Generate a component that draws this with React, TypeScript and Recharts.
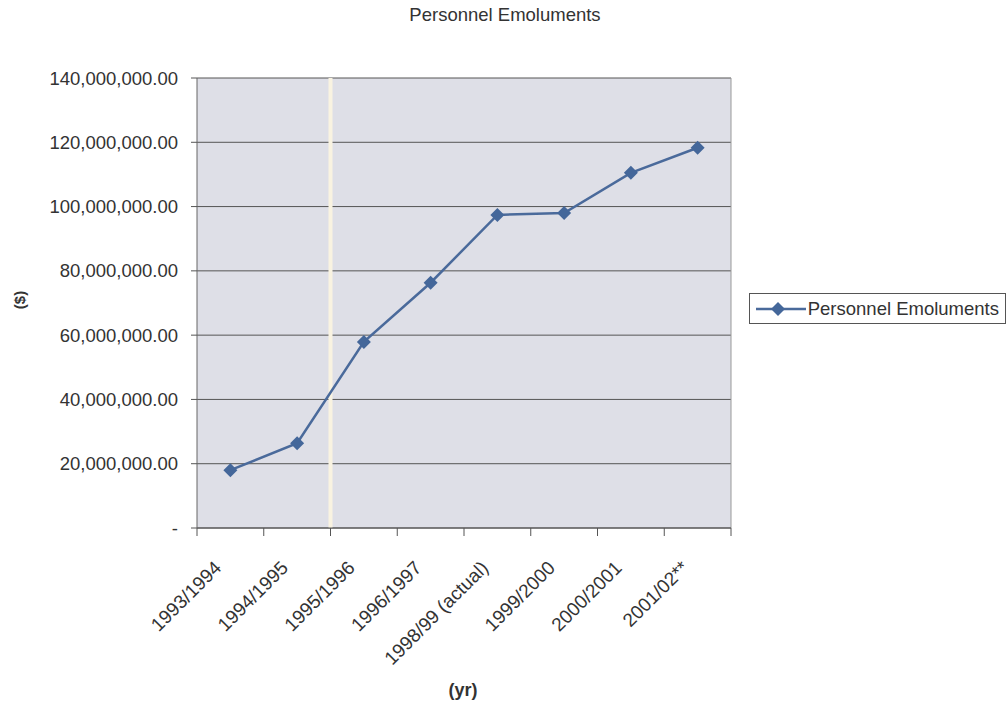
import { LineChart, Line, XAxis, YAxis, CartesianGrid, Legend, ReferenceLine } from "recharts";

const categories = [
  "1993/1994",
  "1994/1995",
  "1995/1996",
  "1996/1997",
  "1998/99 (actual)",
  "1999/2000",
  "2000/2001",
  "2001/02**",
];
const emoluments = [18000000, 26400000, 57900000, 76300000, 97400000, 98000000, 110500000, 118300000];
const yTicks = [0, 20000000, 40000000, 60000000, 80000000, 100000000, 120000000, 140000000];

const data = categories.map((name, i) => ({ x: i + 0.5, name, value: emoluments[i] }));
const xTicks = Array.from({ length: categories.length * 2 + 1 }, (_, i) => i / 2);

const FONT = "'Liberation Sans', Arial, sans-serif";
const LINE = "#4a6a9b";
const TEXT = "#333";

const fmtMoney = (v: number) =>
  v === 0 ? "-" : v.toLocaleString("en-US", { minimumFractionDigits: 2, maximumFractionDigits: 2 });

// ticks at the category borders, labels at the category centres (Excel style)
function XTick(props: any) {
  const { x, y, payload } = props;
  const v = payload.value as number;
  if (Number.isInteger(v)) {
    return <line x1={x} x2={x} y1={y - 8} y2={y} stroke="#555" strokeWidth={1} />;
  }
  const label = categories[Math.floor(v)];
  const ax = x - 8;
  const ay = y + 33;
  return (
    <text
      x={ax}
      y={ay}
      textAnchor="end"
      transform={`rotate(-45 ${ax} ${ay})`}
      fontSize={19}
      fontFamily={FONT}
      fill={TEXT}
    >
      {label}
    </text>
  );
}

function Diamond(props: any) {
  const { cx, cy } = props;
  if (cx == null || cy == null) return null;
  const r = 7;
  return <polygon points={`${cx},${cy - r} ${cx + r},${cy} ${cx},${cy + r} ${cx - r},${cy}`} fill="#44679a" />;
}

function LegendBox() {
  return (
    <div
      style={{
        display: "flex",
        alignItems: "center",
        border: "1px solid #555",
        background: "#fff",
        height: 29,
        width: 243,
        padding: "0 6px 0 6px",
        fontFamily: FONT,
        fontSize: 18.5,
        color: TEXT,
        whiteSpace: "nowrap",
      }}
    >
      <svg width={50} height={16} style={{ marginRight: 2 }}>
        <line x1={0} x2={50} y1={8} y2={8} stroke={LINE} strokeWidth={2.5} />
        <polygon points="22,1 29,8 22,15 15,8" fill="#44679a" />
      </svg>
      Personnel Emoluments
    </div>
  );
}

export default function App() {
  return (
    <div style={{ position: "absolute", left: 0, top: 0, width: 1008, height: 704, background: "#fff", fontFamily: FONT }}>
      <div style={{ position: "absolute", left: 0, width: 1010, top: 4, textAlign: "center", fontSize: 18.5, color: TEXT }}>
        Personnel Emoluments
      </div>
      <div
        style={{
          position: "absolute",
          left: 19,
          top: 300,
          transform: "translate(-50%, -50%) rotate(-90deg)",
          fontSize: 15,
          fontWeight: "bold",
          color: TEXT,
        }}
      >
        ($)
      </div>
      <div
        style={{
          position: "absolute",
          left: 463,
          top: 690,
          transform: "translate(-50%, -50%)",
          fontSize: 18,
          fontWeight: "bold",
          color: TEXT,
        }}
      >
        (yr)
      </div>
      <LineChart width={1008} height={704} data={data} margin={{ top: 78, right: 277, bottom: 116, left: 0 }}>
        <CartesianGrid vertical={false} stroke="#555" fill="#dedfe7" fillOpacity={1} />
        <ReferenceLine x={2} stroke="#f9f3e1" strokeWidth={4} />
        <ReferenceLine x={8} stroke="#999" strokeWidth={1} />
        <XAxis
          dataKey="x"
          type="number"
          domain={[0, 8]}
          ticks={xTicks}
          interval={0}
          height={60}
          tickSize={8}
          tickMargin={0}
          tickLine={false}
          axisLine={{ stroke: "#555" }}
          tick={<XTick />}
        />
        <YAxis
          type="number"
          domain={[0, 140000000]}
          ticks={yTicks}
          interval={0}
          width={197}
          tickSize={6}
          tickMargin={13}
          tickFormatter={fmtMoney}
          tick={{ fontSize: 18.5, fill: TEXT, fontFamily: FONT }}
          tickLine={{ stroke: "#555" }}
          axisLine={{ stroke: "#666" }}
        />
        <Legend
          layout="vertical"
          align="center"
          verticalAlign="middle"
          wrapperStyle={{ position: "absolute", left: 749, top: 293, width: "auto" }}
          content={() => <LegendBox />}
        />
        <Line
          type="linear"
          dataKey="value"
          name="Personnel Emoluments"
          stroke={LINE}
          strokeWidth={2.5}
          dot={<Diamond />}
          activeDot={false}
          isAnimationActive={false}
        />
      </LineChart>
    </div>
  );
}
